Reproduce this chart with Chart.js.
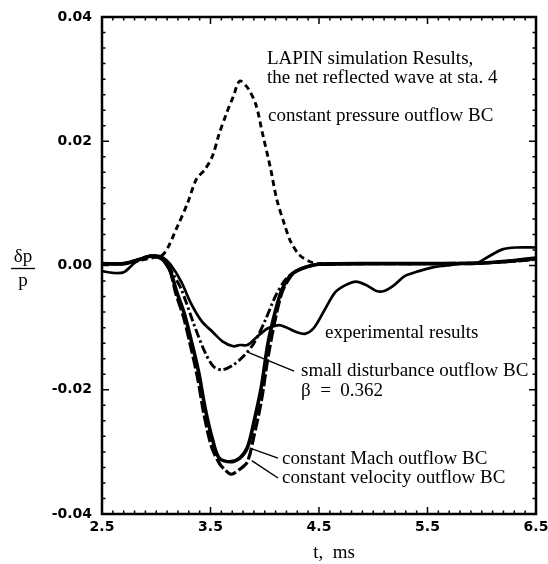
<!DOCTYPE html>
<html>
<head>
<meta charset="utf-8">
<script src="https://cdn.jsdelivr.net/npm/chart.js@4.4.1/dist/chart.umd.min.js"></script>
<style>
  body { margin: 0; background: #fff; }
  #wrap { width: 548px; height: 564px; }
</style>
</head>
<body>
<div id="wrap"><canvas id="myChart" width="548" height="564"></canvas></div>
<script>
// time (ms) and dp/p
const expT = [2.5, 2.6, 2.7, 2.8, 2.9, 3.0, 3.06, 3.13, 3.23, 3.32, 3.42, 3.52, 3.61, 3.71, 3.77, 3.84, 3.94, 4.03, 4.13, 4.19, 4.29, 4.37, 4.45, 4.55, 4.65, 4.74, 4.84, 4.94, 5.03, 5.1, 5.19, 5.29, 5.42, 5.55, 5.68, 5.81, 5.94, 6.06, 6.19, 6.32, 6.5];
const expDp = [-0.0009, -0.0012, -0.0011, 0.0004, 0.0014, 0.0016, 0.0013, 0.0002, -0.0026, -0.0061, -0.0090, -0.0107, -0.0122, -0.0130, -0.0128, -0.0128, -0.0113, -0.0101, -0.0096, -0.0099, -0.0107, -0.0110, -0.0101, -0.0072, -0.0043, -0.0032, -0.0026, -0.0032, -0.0041, -0.0041, -0.0032, -0.0017, -0.0009, -0.0003, 0.0000, 0.0003, 0.0003, 0.0014, 0.0026, 0.0029, 0.0029];

const presT = [2.5, 2.7, 2.85, 2.95, 3.07, 3.19, 3.29, 3.37, 3.45, 3.52, 3.58, 3.65, 3.71, 3.77, 3.85, 3.92, 3.98, 4.05, 4.11, 4.18, 4.24, 4.32, 4.42, 4.52, 5.0, 5.5, 6.0, 6.3, 6.5];
const presDp = [0.0003, 0.0003, 0.0008, 0.0012, 0.0019, 0.0061, 0.0101, 0.0139, 0.0155, 0.0177, 0.0212, 0.0246, 0.0272, 0.0297, 0.0284, 0.0258, 0.0212, 0.0159, 0.0107, 0.0067, 0.0038, 0.0017, 0.0006, 0.0003, 0.0003, 0.0003, 0.0004, 0.0008, 0.0012];

const smallT = [2.5, 2.7, 2.85, 2.95, 3.03, 3.1, 3.16, 3.23, 3.35, 3.45, 3.53, 3.61, 3.71, 3.81, 3.9, 4.0, 4.1, 4.19, 4.29, 4.39, 4.5, 5.0, 5.5, 6.0, 6.3, 6.5];
const smallDp = [0.0003, 0.0003, 0.0010, 0.0015, 0.0012, 0.0003, -0.0015, -0.0038, -0.0096, -0.0140, -0.0163, -0.0168, -0.0160, -0.0145, -0.0125, -0.0090, -0.0049, -0.0023, -0.0009, -0.0002, 0.0002, 0.0003, 0.0003, 0.0004, 0.0007, 0.0010];

const machT = [2.5, 2.7, 2.85, 2.95, 3.03, 3.07, 3.13, 3.19, 3.26, 3.32, 3.39, 3.45, 3.52, 3.58, 3.68, 3.77, 3.84, 3.9, 3.97, 4.03, 4.1, 4.16, 4.23, 4.29, 4.39, 4.5, 5.0, 5.5, 6.0, 6.3, 6.5];
const machDp = [0.0003, 0.0003, 0.0010, 0.0015, 0.0013, 0.0008, -0.0009, -0.0043, -0.0078, -0.0119, -0.0171, -0.0229, -0.0281, -0.0310, -0.0316, -0.0310, -0.0293, -0.0252, -0.0194, -0.0125, -0.0072, -0.0038, -0.0017, -0.0009, -0.0002, 0.0002, 0.0003, 0.0003, 0.0004, 0.0008, 0.0012];

const velT = [2.5, 2.7, 2.85, 2.95, 3.03, 3.07, 3.13, 3.18, 3.25, 3.31, 3.38, 3.44, 3.51, 3.58, 3.64, 3.69, 3.77, 3.84, 3.9, 3.97, 4.03, 4.1, 4.16, 4.23, 4.29, 4.39, 4.5, 5.0, 5.5, 6.0, 6.3, 6.5];
const velDp = [0.0003, 0.0003, 0.0010, 0.0015, 0.0013, 0.0008, -0.0010, -0.0045, -0.0082, -0.0125, -0.0180, -0.0240, -0.0292, -0.0318, -0.0330, -0.0336, -0.0328, -0.0316, -0.0275, -0.0217, -0.0148, -0.0084, -0.0043, -0.0020, -0.0009, -0.0002, 0.0002, 0.0003, 0.0003, 0.0004, 0.0007, 0.0010];

// annotation text anchors (t, dp/p) and leader lines
const labels = [
  { text: "LAPIN simulation Results,", t: 4.02, dp: 0.0333 },
  { text: "the net reflected wave at sta. 4", t: 4.02, dp: 0.0301 },
  { text: "constant pressure outflow BC", t: 4.03, dp: 0.0241 },
  { text: "experimental results", t: 4.555, dp: -0.0109 },
  { text: "small disturbance outflow BC", t: 4.334, dp: -0.0170 },
  { text: "\u03b2  =  0.362", t: 4.334, dp: -0.0202 },
  { text: "constant Mach outflow BC", t: 4.16, dp: -0.0312 },
  { text: "constant velocity outflow BC", t: 4.16, dp: -0.0342 },
];
const leaderSmallT = [4.27, 3.836];
const leaderSmallDp = [-0.0170, -0.0139];
const leaderMachT = [4.122, 3.864];
const leaderMachDp = [-0.0310, -0.0294];
const leaderVelT = [4.122, 3.88];
const leaderVelDp = [-0.0342, -0.0314];

const yTicks = [-0.04, -0.02, 0.0, 0.02, 0.04];
const xTicks = [2.5, 3.5, 4.5, 5.5, 6.5];

function pts(ts, ys) {
  return ts.map((t, i) => ({ x: t, y: ys[i] }));
}

function leader(ts, ys) {
  return {
    data: pts(ts, ys),
    borderColor: "#000",
    borderWidth: 1.4,
    tension: 0,
  };
}

const frame = {
  id: "frame",
  afterDraw(chart) {
    const c = chart.ctx;
    const a = chart.chartArea;
    const xs = chart.scales.x;
    const ys = chart.scales.y;
    c.save();
    c.strokeStyle = "#000";
    // minor and major ticks, inward on all four sides
    c.lineWidth = 1.5;
    for (let i = 0; i <= 40; i++) {
      const v = 2.5 + i * 0.1;
      const px = xs.getPixelForValue(v);
      const len = i % 10 == 0 ? 7 : 3.5;
      c.beginPath();
      c.moveTo(px, a.bottom); c.lineTo(px, a.bottom - len);
      c.moveTo(px, a.top); c.lineTo(px, a.top + len);
      c.stroke();
    }
    for (let i = 0; i <= 32; i++) {
      const v = -0.04 + i * 0.0025;
      const py = ys.getPixelForValue(v);
      const len = i % 8 == 0 ? 7 : 3.5;
      c.beginPath();
      c.moveTo(a.left, py); c.lineTo(a.left + len, py);
      c.moveTo(a.right, py); c.lineTo(a.right - len, py);
      c.stroke();
    }
    c.lineWidth = 2.5;
    c.strokeRect(a.left, a.top, a.right - a.left, a.bottom - a.top);

    // annotations
    c.fillStyle = "#000";
    c.font = "19px 'Liberation Serif', serif";
    c.textBaseline = "middle";
    c.textAlign = "left";
    labels.forEach((l) => {
      c.fillText(l.text, xs.getPixelForValue(l.t), ys.getPixelForValue(l.dp));
    });

    // axis titles
    c.textAlign = "center";
    c.fillText("t,  ms", 334, 553);
    c.fillText("\u03b4p", 23, 257);
    c.fillText("p", 23, 281);
    c.lineWidth = 1.3;
    c.beginPath();
    c.moveTo(11, 268.5); c.lineTo(35, 268.5);
    c.stroke();
    c.restore();
  },
};

var ctx = document.getElementById("myChart").getContext("2d");
var chart = new Chart(ctx, {
  type: "line",
  data: {
    datasets: [
      {
        label: "experimental results",
        data: pts(expT, expDp),
        borderColor: "#000",
        borderWidth: 2.7,
        tension: 0.3,
      },
      {
        label: "constant pressure outflow BC",
        data: pts(presT, presDp),
        borderColor: "#000",
        borderWidth: 2.9,
        borderDash: [6, 4],
        tension: 0.3,
      },
      {
        label: "small disturbance outflow BC",
        data: pts(smallT, smallDp),
        borderColor: "#000",
        borderWidth: 2.9,
        borderDash: [9, 3, 2.5, 3],
        tension: 0.3,
      },
      {
        label: "constant Mach outflow BC",
        data: pts(machT, machDp),
        borderColor: "#000",
        borderWidth: 3.6,
        tension: 0.3,
      },
      {
        label: "constant velocity outflow BC",
        data: pts(velT, velDp),
        borderColor: "#000",
        borderWidth: 3.2,
        borderDash: [12, 3],
        tension: 0.3,
      },
      leader(leaderSmallT, leaderSmallDp),
      leader(leaderMachT, leaderMachDp),
      leader(leaderVelT, leaderVelDp),
    ],
  },
  options: {
    animation: false,
    responsive: false,
    layout: {
      autoPadding: false,
      padding: { top: 17, right: 12, left: 0, bottom: 0 },
    },
    plugins: {
      legend: { display: false },
      tooltip: { enabled: false },
    },
    elements: {
      point: { radius: 0 },
    },
    scales: {
      x: {
        type: "linear",
        min: 2.5,
        max: 6.5,
        afterBuildTicks: (s) => { s.ticks = xTicks.map((v) => ({ value: v })); },
        afterFit: (s) => {
          s.height = 50;
          s.paddingLeft = 0;
          s.paddingRight = 0;
        },
        grid: { display: false, drawTicks: false },
        border: { display: false },
        ticks: {
          padding: 5,
          color: "#000",
          maxRotation: 0,
          autoSkip: false,
          font: { family: "'DejaVu Sans'", size: 14, weight: "bold" },
          callback: (v) => v.toFixed(1),
        },
      },
      y: {
        min: -0.04,
        max: 0.04,
        afterBuildTicks: (s) => { s.ticks = yTicks.map((v) => ({ value: v })); },
        afterFit: (s) => {
          s.width = 102;
          s.paddingTop = 0;
          s.paddingBottom = 0;
        },
        grid: { display: false, drawTicks: false },
        border: { display: false },
        ticks: {
          padding: 10,
          color: "#000",
          autoSkip: false,
          font: { family: "'DejaVu Sans'", size: 14, weight: "bold" },
          callback: (v) => v.toFixed(2),
        },
      },
    },
  },
  plugins: [frame],
});
</script>
</body>
</html>
